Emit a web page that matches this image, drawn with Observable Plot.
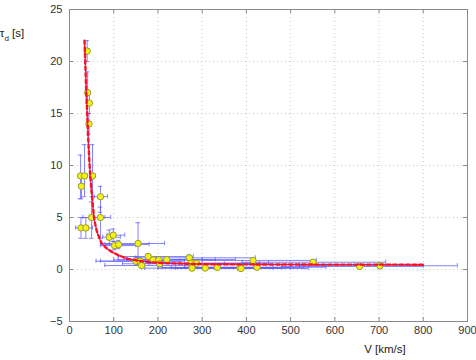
<!DOCTYPE html>
<html>
<head>
<meta charset="utf-8">
<script src="https://cdn.jsdelivr.net/npm/d3@7"></script>
<script src="https://cdn.jsdelivr.net/npm/@observablehq/plot@0.6"></script>
<style>
  html, body { margin: 0; padding: 0; background: #fff; }
  #chart { width: 476px; height: 360px; }
</style>
</head>
<body>
<div id="chart"></div>
<script>
// Measured points: speed V [km/s], delay tau_d [s] and error bar bounds
const V    = [40, 41, 45, 44, 25, 34, 52, 27, 70, 50, 70, 26, 37, 90, 99, 102, 111, 155, 150, 160, 163, 178, 189, 202, 204, 220, 271, 274, 287, 277, 307, 334, 385, 388, 415, 424, 551, 656, 702];
const tau  = [21.0, 17.0, 16.0, 14.0, 9.0, 9.0, 9.0, 8.0, 7.0, 5.0, 5.0, 4.0, 4.0, 3.1, 3.3, 2.3, 2.4, 2.5, 0.8, 0.8, 0.38, 1.25, 0.93, 0.93, 0.55, 0.95, 1.12, 0.6, 0.6, 0.13, 0.14, 0.2, 0.16, 0.1, 0.87, 0.22, 0.7, 0.3, 0.36];
const vLo  = [37, 38, 42, 41, 20, 28, 46, 22, 56, 30, 50, 14, 25, 75, 85, 70, 80, 70, 60, 70, 80, 110, 100, 110, 120, 130, 150, 160, 180, 170, 200, 210, 230, 240, 300, 260, 390, 480, 520];
const vHi  = [44, 45, 49, 48, 30, 40, 58, 32, 86, 80, 93, 40, 52, 115, 125, 150, 180, 215, 250, 260, 280, 280, 300, 330, 350, 375, 420, 430, 450, 460, 480, 500, 530, 540, 558, 580, 715, 800, 877];
const tLo  = [20.0, 16.0, 15.0, 13.0, 6.8, 7.0, 7.0, 6.8, 5.5, 3.0, 3.0, 3.0, 3.0, 2.5, 2.7, 1.9, 2.0, 0.5, 0.4, 0.5, 0.2, 1.0, 0.7, 0.7, 0.3, 0.7, 0.9, 0.4, 0.4, 0.0, 0.0, 0.05, 0.0, 0.0, 0.7, 0.05, 0.55, 0.2, 0.25];
const tHi  = [22.0, 19.0, 17.0, 15.0, 11.0, 12.0, 12.0, 9.0, 8.0, 6.5, 6.0, 5.0, 5.0, 3.8, 3.9, 2.7, 2.8, 4.5, 1.2, 1.1, 0.6, 1.5, 1.2, 1.2, 0.8, 1.2, 1.4, 0.8, 0.8, 0.3, 0.3, 0.35, 0.3, 0.25, 1.0, 0.4, 0.85, 0.4, 0.45];

// Fitted curve
const fitV   = [34, 36, 38, 40, 43, 47, 51, 55, 60, 66, 72, 80, 90, 100, 115, 130, 145, 160, 180, 200, 250, 300, 400, 500, 600, 700, 800];
const fitTau = [22, 19.5, 17, 15, 12, 9, 7, 5.2, 4.0, 3.2, 2.6, 2.2, 1.85, 1.6, 1.3, 1.05, 0.92, 0.82, 0.72, 0.65, 0.57, 0.52, 0.49, 0.48, 0.47, 0.47, 0.46];

const xTicks = [0, 100, 200, 300, 400, 500, 600, 700, 800, 900];
const yTicks = [-5, 0, 5, 10, 15, 20, 25];

const data = V.map((v, i) => ({V: v, tau: tau[i], vLo: vLo[i], vHi: vHi[i], tLo: tLo[i], tHi: tHi[i]}));
const fit = fitV.map((v, i) => ({V: v, tau: fitTau[i]}));

const W = 476, H = 360;
const mL = 69, mR = 9, mT = 9, mB = 39;
const innerW = W - mL - mR, innerH = H - mT - mB;
const barColor = "#5a5aff";

const chart = Plot.plot({
  width: W,
  height: H,
  marginLeft: mL,
  marginRight: mR,
  marginTop: mT,
  marginBottom: mB,
  style: {fontFamily: "'Liberation Sans', Arial, sans-serif", fontSize: "11px", color: "#333", background: "#fff"},
  x: {domain: [0, 900], ticks: xTicks, tickSize: 0, tickPadding: 5, label: null},
  y: {domain: [-5, 25], ticks: yTicks, tickSize: 0, tickPadding: 7, label: null},
  marks: [
    Plot.ruleX(xTicks, {stroke: "#c8c8c8", strokeDasharray: "1,3"}),
    Plot.ruleY(yTicks, {stroke: "#c8c8c8", strokeDasharray: "1,3"}),
    Plot.tickX(xTicks, {x: d => d, insetTop: innerH - 4, stroke: "#888"}),
    Plot.tickX(xTicks, {x: d => d, insetBottom: innerH - 4, stroke: "#888"}),
    Plot.tickY(yTicks, {y: d => d, insetRight: innerW - 4, stroke: "#888"}),
    Plot.tickY(yTicks, {y: d => d, insetLeft: innerW - 4, stroke: "#888"}),
    // error bars
    Plot.ruleY(data, {y: "tau", x1: "vLo", x2: "vHi", stroke: barColor, strokeOpacity: 0.75}),
    Plot.ruleX(data, {x: "V", y1: "tLo", y2: "tHi", stroke: barColor, strokeOpacity: 0.75}),
    Plot.ruleX(data, {x: "vLo", y1: d => d.tau - 0.2, y2: d => d.tau + 0.2, stroke: barColor, strokeOpacity: 0.75}),
    Plot.ruleX(data, {x: "vHi", y1: d => d.tau - 0.2, y2: d => d.tau + 0.2, stroke: barColor, strokeOpacity: 0.75}),
    Plot.ruleY(data, {y: "tLo", x1: d => d.V - 5, x2: d => d.V + 5, stroke: barColor, strokeOpacity: 0.75}),
    Plot.ruleY(data, {y: "tHi", x1: d => d.V - 5, x2: d => d.V + 5, stroke: barColor, strokeOpacity: 0.75}),
    // points
    Plot.dot(data, {x: "V", y: "tau", r: 3.2, fill: "#f2f21a", stroke: "#9c9c2a", strokeWidth: 1}),
    // fit curve
    Plot.line(fit, {x: "V", y: "tau", stroke: "#6a3ad8", strokeWidth: 1, curve: "monotone-x"}),
    Plot.line(fit, {x: "V", y: "tau", stroke: "#ff1020", strokeWidth: 2.4, strokeDasharray: "3.5,3", curve: "monotone-x"}),
    Plot.frame({stroke: "#8a8a8a"})
  ]
});

document.getElementById("chart").appendChild(chart);

// axis labels (with subscript)
const svg = d3.select(chart);
const ylab = svg.append("text")
  .attr("x", 12).attr("y", 37)
  .attr("fill", "#222")
  .style("font-family", "'Liberation Sans', Arial, sans-serif")
  .style("font-size", "11.5px");
ylab.append("tspan").text("τ");
ylab.append("tspan").attr("dy", 4).style("font-size", "8px").text("d");
ylab.append("tspan").attr("dy", -4).text(" [s]");

svg.append("text")
  .attr("x", 385).attr("y", 353)
  .attr("fill", "#222")
  .style("font-family", "'Liberation Sans', Arial, sans-serif")
  .style("font-size", "11.5px")
  .text("V [km/s]");
</script>
</body>
</html>
